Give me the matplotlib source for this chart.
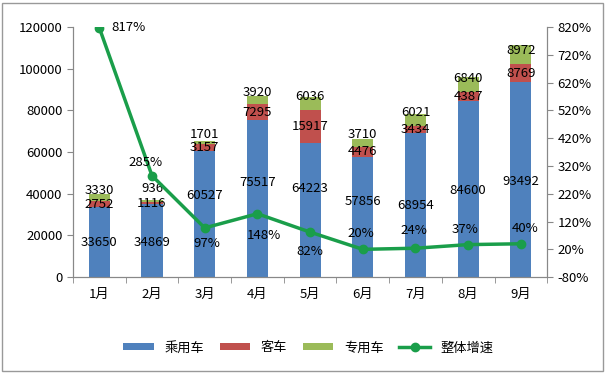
import numpy as np
import matplotlib.pyplot as plt

plt.rcParams['font.family'] = ['Noto Sans CJK SC', 'DejaVu Sans']

months = ['1月', '2月', '3月', '4月', '5月', '6月', '7月', '8月', '9月']
passenger = [33650, 34869, 60527, 75517, 64223, 57856, 68954, 84600, 93492]
bus = [2752, 1116, 3157, 7295, 15917, 4476, 3434, 4387, 8769]
special = [3330, 936, 1701, 3920, 6036, 3710, 6021, 6840, 8972]
growth = [817, 285, 97, 148, 82, 20, 24, 37, 40]

c_blue = '#4f81bd'
c_red = '#c0504d'
c_green = '#9bbb59'
c_line = '#1a9e4a'

fig = plt.figure(figsize=(6.08, 3.74), dpi=100)
ax = fig.add_axes([0.12, 0.259, 0.78, 0.669])
x = np.arange(len(months))
w = 0.4

p = np.array(passenger)
b = np.array(bus)
s = np.array(special)
ax.bar(x, p, w, color=c_blue, label='乘用车')
ax.bar(x, b, w, bottom=p, color=c_red, label='客车')
ax.bar(x, s, w, bottom=p + b, color=c_green, label='专用车')

fs = 9.5
# where the 乘用车 labels sit, as a fraction of the blue segment (moved off the line)
p_lab = [0.5, 0.48, 0.65, 0.6, 0.665, 0.63, 0.495, 0.49, 0.49]
s_lift = [3500, 6000, 4000, 4000, 3500, 4000, 3500, 3000, 2000]
for i in range(len(x)):
    ax.text(x[i], p[i] * p_lab[i], str(p[i]), ha='center', va='center', fontsize=fs)
    ax.text(x[i], p[i] + b[i] / 2, str(b[i]), ha='center', va='center', fontsize=fs)
    ax.text(x[i], p[i] + b[i] + s[i] / 2 + s_lift[i], str(s[i]), ha='center', va='center', fontsize=fs)

ax.set_ylim(0, 120000)
ax.set_yticks(range(0, 120001, 20000))
ax.set_xlim(-0.5, len(months) - 0.5)
ax.set_xticks(x)
ax.set_xticklabels(months)
ax.set_xticks(np.arange(-0.5, len(months), 1), minor=True)
ax.tick_params(axis='x', which='major', length=0, pad=8)
ax.tick_params(axis='x', which='minor', length=4, direction='out', color='#888888')
ax.tick_params(axis='y', length=4, color='#888888', labelsize=fs)
ax.tick_params(axis='x', labelsize=fs)
ax.spines['top'].set_visible(False)
for sp in ['left', 'right', 'bottom']:
    ax.spines[sp].set_color('#888888')

ax2 = ax.twinx()
ax2.plot(x, growth, color=c_line, lw=2.5, marker='o', ms=6, label='整体增速')
ax2.set_ylim(-80, 820)
ax2.set_yticks(range(-80, 821, 100))
ax2.set_yticklabels([f'{v}%' for v in range(-80, 821, 100)])
ax2.tick_params(axis='y', length=4, color='#888888', labelsize=fs)
ax2.spines['top'].set_visible(False)
for sp in ['left', 'right', 'bottom']:
    ax2.spines[sp].set_color('#888888')

# label offsets in pixels (dx, dy)
offs = [(12, 0), (-6, 13), (2, -16), (7, -22), (0, -19), (-2, 16), (-2, 18), (-3, 15), (4, 15)]
for i in range(len(x)):
    ax2.annotate(f'{growth[i]}%', (x[i], growth[i]), xytext=offs[i], textcoords='offset pixels',
                 ha='left' if i == 0 else 'center', va='center', fontsize=fs)

h1, l1 = ax.get_legend_handles_labels()
h2, l2 = ax2.get_legend_handles_labels()
fig.legend(h1 + h2, l1 + l2, loc='center', bbox_to_anchor=(0.507, 0.07), ncol=4,
           frameon=False, fontsize=fs, handlelength=2.3, handleheight=0.5, columnspacing=1.2)

fig.patches.append(plt.Rectangle((0.004, 0.008), 0.988, 0.985, transform=fig.transFigure,
                                 fill=False, edgecolor='#999999', lw=1))

fig.savefig('out.png', dpi=100)
